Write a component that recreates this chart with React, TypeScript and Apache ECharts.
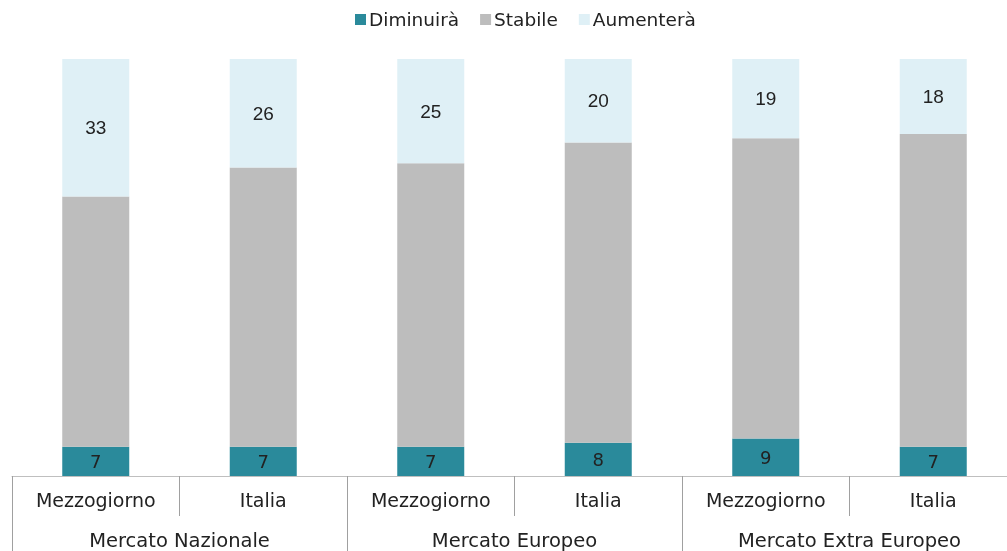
import React, { useEffect, useRef } from "react";
import * as echarts from "echarts";

const categories = ["Mezzogiorno", "Italia", "Mezzogiorno", "Italia", "Mezzogiorno", "Italia"];
const groups = ["Mercato Nazionale", "Mercato Europeo", "Mercato Extra Europeo"];
const diminuira = [7, 7, 7, 8, 9, 7];
const stabile = [60, 67, 68, 72, 72, 75];
const aumentera = [33, 26, 25, 20, 19, 18];

const FONT = "DejaVu Sans";

export default function App() {
  const ref = useRef<HTMLDivElement>(null);
  useEffect(() => {
    if (!ref.current) return;
    const chart = echarts.init(ref.current, undefined, { renderer: "svg" });
    chart.setOption({
      animation: false,
      textStyle: { fontFamily: FONT },
      legend: {
        top: 5,
        left: 350,
        itemWidth: 11,
        itemHeight: 11,
        itemGap: 21,
        icon: "rect",
        textStyle: { fontSize: 18.5, color: "#222", fontFamily: FONT, padding: [0, 0, 0, -2] },
        data: ["Diminuirà", "Stabile", "Aumenterà"],
      },
      grid: { left: 12, width: 1005, top: 59, bottom: 75, outerBoundsMode: "none" },
      xAxis: [
        {
          type: "category",
          data: categories,
          position: "bottom",
          offset: 0,
          axisLine: { show: true, lineStyle: { color: "#bfbfbf", width: 1 } },
          axisTick: { show: true, interval: 0, length: 40, lineStyle: { color: "#a0a0a0" } },
          axisLabel: { interval: 0, margin: 14, fontSize: 19, color: "#222", fontFamily: FONT },
        },
        {
          type: "category",
          data: groups,
          position: "bottom",
          offset: 0,
          axisLine: { show: false },
          axisTick: { show: true, interval: 0, length: 80, lineStyle: { color: "#a0a0a0" } },
          axisLabel: { interval: 0, margin: 54, fontSize: 19.5, color: "#222", fontFamily: FONT },
        },
      ],
      yAxis: { type: "value", min: 0, max: 100, show: false, splitLine: { show: false } },
      series: [
        {
          name: "Diminuirà",
          type: "bar",
          stack: "t",
          xAxisIndex: 0,
          barWidth: 67,
          data: diminuira,
          itemStyle: { color: "#2a8a9b" },
          label: { show: true, position: "inside", fontSize: 18, color: "#222", fontFamily: FONT },
        },
        {
          name: "Stabile",
          type: "bar",
          stack: "t",
          xAxisIndex: 0,
          barWidth: 67,
          data: stabile,
          itemStyle: { color: "#bdbdbd" },
        },
        {
          name: "Aumenterà",
          type: "bar",
          stack: "t",
          xAxisIndex: 0,
          barWidth: 67,
          data: aumentera,
          itemStyle: { color: "#dff0f6" },
          label: { show: true, position: "inside", fontSize: 19, color: "#222", fontFamily: "Liberation Sans" },
        },
      ],
    });
    return () => chart.dispose();
  }, []);
  return <div ref={ref} style={{ position: "fixed", left: 0, top: 0, width: 1007, height: 551 }} />;
}
